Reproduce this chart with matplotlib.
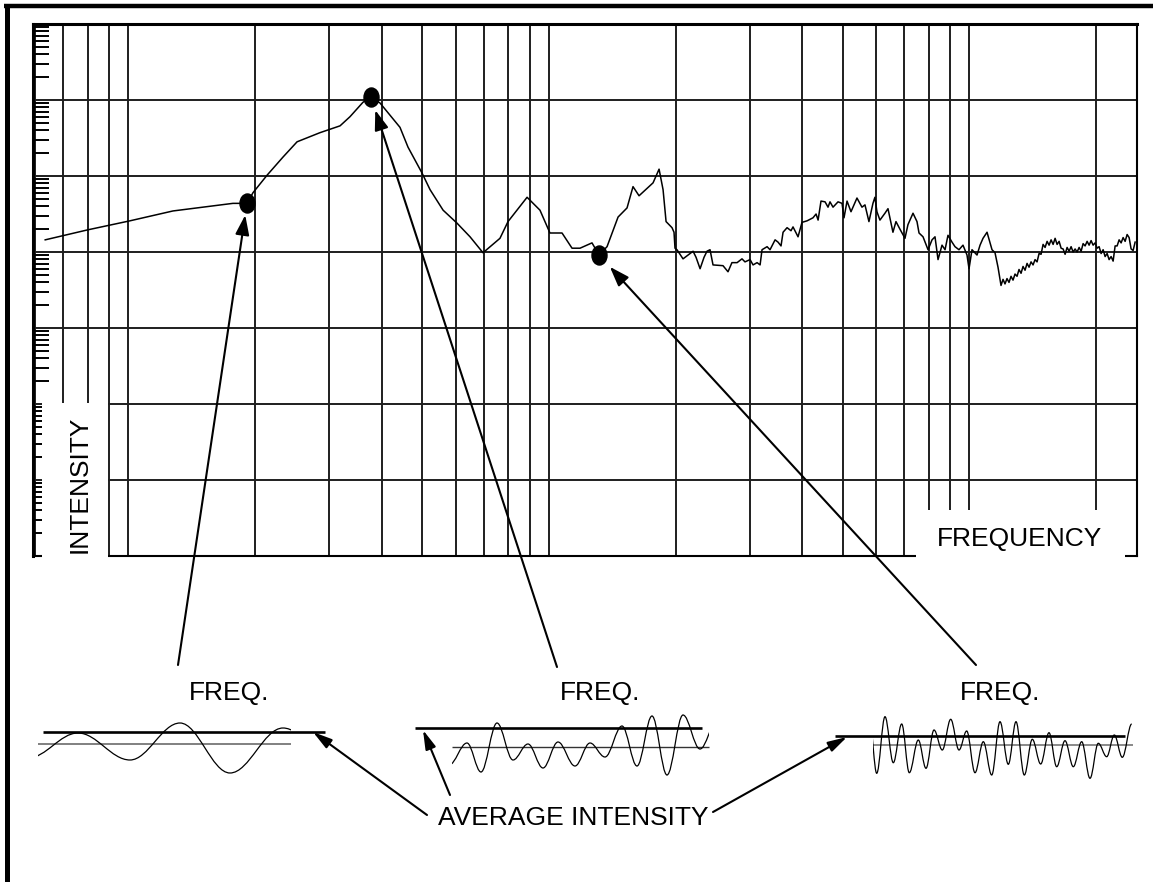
import numpy as np
import matplotlib
matplotlib.use("Agg")
import matplotlib.pyplot as plt
from matplotlib.path import Path
from matplotlib.patches import PathPatch, Rectangle
from matplotlib.lines import Line2D
from matplotlib.transforms import Affine2D
from matplotlib.ticker import FixedLocator, NullLocator

plt.rcParams["font.family"] = ["Liberation Sans", "DejaVu Sans"]

# ---------------------------------------------------------------------------
# Spectrum: frequency (Hz) and intensity level (dB re. bottom of the chart)
freq_hz = [
    31.7, 39.9, 50.4, 63.8, 88.6, 95.7, 98.9, 106.8, 116.6, 125.9, 142.7, 159.3,
    168.2, 180.6, 188.7, 198.3, 221.2, 231.1, 249.5, 260.8, 280.1, 302.2, 324.6,
    348.5, 382.4, 399.6, 443.6, 476.1, 502.8, 537.2, 567.4, 592.8, 633.0, 643.6,
    657.8, 687.3, 730.1, 766.9, 792.4, 819.0, 884.3, 913.9, 934.1, 949.6, 981.0,
    991.8, 997.2, 1008, 1042, 1071, 1101, 1119, 1144, 1169, 1188, 1208, 1228,
    1297, 1333, 1362, 1401, 1439, 1463, 1504, 1529, 1563, 1589, 1606, 1651, 1678,
    1725, 1753, 1782, 1802, 1842, 1882, 1903, 1956, 1999, 2055, 2123, 2159, 2183,
    2218, 2268, 2305, 2330, 2369, 2435, 2489, 2516, 2558, 2614, 2643, 2701, 2776,
    2822, 2884, 2948, 2980, 3013, 3063, 3148, 3201, 3289, 3344, 3418, 3513, 3571,
    3671, 3752, 3794, 3878, 3986, 4074, 4141, 4210, 4303, 4375, 4446, 4545, 4620,
    4722, 4827, 4934, 4989, 5071, 5212, 5299, 5386, 5506, 5597, 5658, 5752, 5847,
    5944, 6010, 6075, 6142, 6210, 6279, 6348, 6418, 6489, 6560, 6633, 6706, 6780,
    6855, 6930, 7007, 7084, 7162, 7241, 7321, 7402, 7484, 7566, 7650, 7734, 7820,
    7906, 7993, 8081, 8170, 8260, 8351, 8443, 8536, 8630, 8725, 8821, 8918, 9016,
    9116, 9216, 9318, 9420, 9524, 9629, 9735, 9842, 9951, 10060, 10171, 10283,
    10397, 10511, 10627, 10744, 10862, 10982, 11103, 11225, 11349, 11474, 11600,
    11728, 11857, 11987, 12119, 12253, 12388,
]
level_db = [
    41.6, 42.9, 44.1, 45.4, 46.4, 46.4, 47.8, 50.1, 52.5, 54.5, 55.7, 56.6,
    57.8, 59.7, 60.4, 59.6, 56.4, 53.8, 50.4, 48.2, 45.5, 43.8, 42.0,
    39.9, 41.8, 44.0, 47.2, 45.5, 42.5, 42.5, 40.5, 40.5, 41.2, 40.5,
    39.6, 40.7, 44.6, 45.8, 48.6, 47.4, 49.1, 50.9, 48.2, 44.0, 43.2,
    42.6, 40.5, 40.3, 39.1, 39.6, 40.1, 39.3, 37.8, 39.3, 40.1, 40.3, 38.3,
    38.2, 37.4, 38.6, 38.6, 39.1, 38.7, 39.0, 38.3, 38.6, 38.3, 40.3, 40.7, 40.3,
    41.6, 41.3, 40.8, 42.6, 43.2, 42.8, 43.3, 42.0, 43.9, 44.1, 44.5, 45.0, 44.2,
    46.7, 46.6, 45.9, 46.6, 45.9, 46.6, 46.4, 44.5, 46.7, 45.3, 45.9, 47.1, 45.9,
    46.2, 44.0, 46.4, 47.2, 45.3, 44.2, 45.1, 45.7, 42.6, 44.0, 43.0, 41.8, 43.6,
    45.1, 44.0, 42.5, 42.0, 40.3, 41.6, 42.0, 39.0, 40.9, 40.3, 42.2, 41.3, 40.7,
    40.3, 40.9, 39.6, 37.8, 40.3, 39.6, 40.9, 41.8, 42.6, 41.2, 40.3, 39.9, 38.0,
    35.6, 36.4, 35.8, 36.5, 36.0, 36.8, 36.3, 37.1, 36.8, 37.7, 37.2, 38.1, 37.6,
    38.5, 38.0, 38.7, 38.3, 39.0, 38.7, 39.8, 39.7, 41.0, 40.6, 41.4, 40.9, 41.6,
    41.0, 41.8, 41.0, 41.4, 40.5, 40.4, 39.7, 40.6, 40.1, 40.7, 40.0, 40.4, 40.0,
    40.6, 40.1, 41.1, 40.8, 41.4, 40.9, 41.5, 40.9, 41.2, 40.5, 40.7, 39.8,
    40.3, 39.4, 39.8, 39.0, 39.4, 38.8, 40.8, 40.8, 41.6, 41.2, 41.9,
    41.4, 42.3, 41.9, 40.4, 40.2, 41.3,
]

# Frequencies picked out with a dot
highlight_hz = [95.7, 188.7, 657.8]

# Frequency grid lines (Hz)
grid_hz = [30, 35, 40, 45, 50, 100, 150, 200, 250, 300, 350, 400, 450, 500,
           1000, 1500, 2000, 2500, 3000, 3500, 4000, 4500, 5000, 10000]

# Sound waves: turning points (time, amplitude) of each waveform
wave1_t = [-10, 40, 92, 142, 192, 245, 295]
wave1_a = [-14, 11, -16, 21, -29, 16, -14]
wave2_t = [44, 62, 76, 92, 108, 123, 138, 153, 170, 185, 200, 217, 232, 247,
           262, 278, 295, 312]
wave2_a = [-18, 4, -25, 24, -13, 3, -21, 5, -19, 4, -10, 21, -19, 31, -28, 32,
           -2, 26]
wave3_t = [40, 46.7, 55, 63.3, 71.7, 79.3, 88.3, 96, 104, 112.3, 120.7, 129,
           136.7, 145, 153.3, 161.7, 170, 178.3, 186, 194.3, 202.3, 210.7, 219,
           226.7, 235, 243.3, 251.7, 260, 268.3, 276.7, 284.3, 292.3, 301.7]
wave3_a = [20, -28.3, 28.3, -17.7, 21, -27.7, 5, -23.3, 15, -5, 25.7, -5, 14,
           -27.7, 3.3, -30, 23.3, -19.3, 23.3, -30, 5.7, -19, 12.3, -21.7, 4.3,
           -21.7, 3.3, -33.3, 1.7, -11.7, 10, -12.3, 21]

# Visible time span of each wave, its zero line and its average-intensity line
wave_span = [(0, 253), (47, 304), (43, 303)]
zero_span = [(0, 253), (47, 304), (43, 303)]
avg_level = [12, 19, 9]
avg_span = [(5, 287), (10, 297), (5, 295)]

# ---------------------------------------------------------------------------
W, H = 1153, 882
fig = plt.figure(figsize=(W / 100, H / 100), dpi=100)
fig.patch.set_facecolor("white")


def fx(x):
    return x / W


def fy(y):
    return 1 - y / H


def frac(x, y):
    return (fx(x), fy(y))


# ---- main spectrum chart ---------------------------------------------------
ax = fig.add_axes([fx(33), fy(556), 1104 / W, 532 / H])
ax.set_xscale("log")
ax.set_yscale("log")
ax.set_xlim(29.65, 12516)
ax.set_ylim(1, 1e7)
ax.xaxis.set_major_locator(FixedLocator(grid_hz))
ax.xaxis.set_minor_locator(NullLocator())
ax.yaxis.set_major_locator(FixedLocator(10.0 ** np.arange(0, 8)))
ax.yaxis.set_minor_locator(
    FixedLocator([m * 10.0 ** d for d in range(7) for m in range(2, 10)]))
ax.tick_params(which="both", labelleft=False, labelbottom=False, bottom=False)
ax.tick_params(axis="y", which="major", length=0)
ax.tick_params(axis="y", which="minor", direction="in", length=11.5,
               width=1.4, color="black", left=True)
ax.grid(True, which="major", color="#1e1e1e", lw=1.4)
for side, lw in (("left", 2.2), ("top", 2.2), ("right", 1.5), ("bottom", 1.5)):
    ax.spines[side].set_linewidth(lw)
    ax.spines[side].set_color("black")

intensity = 10 ** (np.array(level_db) / 10)
ax.plot(freq_hz, intensity, color="black", lw=1.1, zorder=3)

hi_level = np.array([level_db[freq_hz.index(f)] for f in highlight_hz])
hi_intensity = 10 ** (hi_level / 10)
ellipse = Path.unit_circle().transformed(Affine2D().scale(0.79, 1.0))
ax.plot(highlight_hz, hi_intensity, ls="none", marker=ellipse, ms=13.7,
        color="black", zorder=4)

# arrows from the sound-wave captions up to the highlighted points
caption_tails = [(178, 665), (557, 667), (976, 665)]
tip_gap = [8.5, 10, 11.5]
for f, yv, tail, gap in zip(highlight_hz, hi_intensity, caption_tails, tip_gap):
    ax.annotate("", xy=(f, yv), xycoords="data",
                xytext=frac(*tail), textcoords="figure fraction",
                arrowprops=dict(arrowstyle="-|>,head_length=1.2,head_width=0.42",
                                color="black", lw=1.5, shrinkA=0, shrinkB=gap,
                                mutation_scale=10),
                annotation_clip=False, zorder=5)

# ---- sound wave sketches ---------------------------------------------------
def wave_path(t, a, k=0.364):
    verts = [(t[0], a[0])]
    codes = [Path.MOVETO]
    for t0, a0, t1, a1 in zip(t[:-1], a[:-1], t[1:], a[1:]):
        dt = t1 - t0
        verts += [(t0 + k * dt, a0), (t1 - k * dt, a1), (t1, a1)]
        codes += [Path.CURVE4] * 3
    return Path(verts, codes)


inset_px = [(38, 744), (405, 747), (830, 745)]   # left edge, zero-line y
inset_w = [292, 310, 310]
zero_color = ["#808080", "#333333", "#808080"]
zero_lw = [1.4, 1.0, 1.3]
waves = [(wave1_t, wave1_a), (wave2_t, wave2_a), (wave3_t, wave3_a)]
insets = []
for i, ((left, mid), w, (wt, wa)) in enumerate(zip(inset_px, inset_w, waves)):
    top, bottom = 700, 790
    iax = fig.add_axes([fx(left), fy(bottom), w / W, (bottom - top) / H])
    iax.set_xlim(0, w)
    iax.set_ylim(-(bottom - mid), mid - top)
    iax.set_axis_off()
    iax.patch.set_alpha(0)
    # zero line
    iax.plot(zero_span[i], [0, 0], color=zero_color[i], lw=zero_lw[i],
             solid_capstyle="butt", zorder=2)
    # average intensity line
    iax.plot(avg_span[i], [avg_level[i]] * 2, color="black", lw=1.9,
             solid_capstyle="butt", zorder=3)
    # the wave itself
    patch = PathPatch(wave_path(wt, wa), fill=False, edgecolor="black",
                      lw=0.9, zorder=4)
    iax.add_patch(patch)
    t0, t1 = wave_span[i]
    clip = Rectangle((t0, -200), t1 - t0, 400, transform=iax.transData)
    patch.set_clip_path(clip)
    insets.append(iax)

# arrows from "AVERAGE INTENSITY" to the average lines
avg_tips = [(275, 12), (18, 17), (17, 8)]
avg_tails = [(427, 815), (450, 795), (713, 812)]
for iax, tip, tail in zip(insets, avg_tips, avg_tails):
    iax.annotate("", xy=tip, xycoords="data",
                 xytext=frac(*tail), textcoords="figure fraction",
                 arrowprops=dict(arrowstyle="-|>,head_length=1.15,head_width=0.32",
                                 color="black", lw=1.5, shrinkA=0, shrinkB=0,
                                 mutation_scale=10),
                 annotation_clip=False, zorder=5)

# ---- label boxes and text --------------------------------------------------
for (x0, y0, x1, y1) in [(42, 402.5, 107.5, 562), (916, 510, 1125, 562)]:
    fig.add_artist(Rectangle(frac(x0, y1), (x1 - x0) / W, (y1 - y0) / H,
                             transform=fig.transFigure, facecolor="white",
                             edgecolor="none", zorder=3))

txt = dict(fontsize=19, color="black", zorder=6)
fig.text(*frac(87, 484), "INTENSITY", rotation=90, rotation_mode="anchor",
         ha="center", va="baseline", **txt)
fig.text(*frac(1019.5, 545.7), "FREQUENCY", ha="center", va="baseline", **txt)
for cx in (229, 600, 1000):
    fig.text(*frac(cx, 700), "FREQ.", ha="center", va="baseline", **txt)
fig.text(*frac(573.5, 825), "AVERAGE INTENSITY", ha="center", va="baseline",
         **txt)

# ---- outer frame (top and left edges) --------------------------------------
fig.add_artist(Line2D([fx(4), 1.0], [fy(6), fy(6)], transform=fig.transFigure,
                      color="black", lw=3.2, solid_capstyle="butt", zorder=7))
fig.add_artist(Line2D([fx(6.5), fx(6.5)], [0.0, fy(3.7)],
                      transform=fig.transFigure, color="black", lw=3.6,
                      solid_capstyle="butt", zorder=7))

fig.savefig("out.png", dpi=100, facecolor="white")
